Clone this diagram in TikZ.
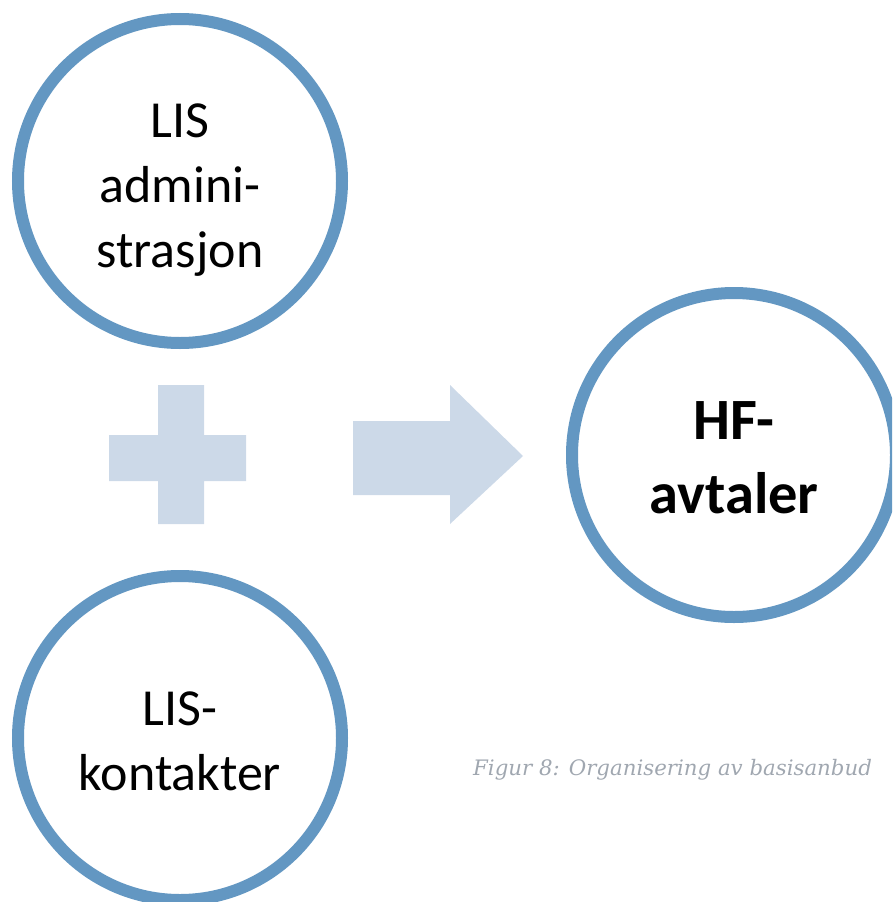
\documentclass[tikz,border=0pt]{standalone}
\usepackage{fontspec}
\setmainfont{Carlito}
\newfontfamily\capfont{DejaVu Serif}
\definecolor{ringblue}{RGB}{99,151,194}
\definecolor{shapefill}{RGB}{204,217,232}
\definecolor{capgray}{RGB}{160,167,176}
\begin{document}
\begin{tikzpicture}[x=1pt,y=-1pt,
  ring/.style={circle,draw=ringblue,line width=12pt,fill=white,minimum size=324pt,inner sep=0pt},
  ringtext/.style={align=center,inner sep=0pt,font=\fontsize{52}{65}\selectfont},
  boldtext/.style={align=center,inner sep=0pt,font=\fontsize{58.5}{74}\selectfont\bfseries},
  capstyle/.style={anchor=base west,inner sep=0pt,text=capgray,font=\capfont\itshape\fontsize{21.3}{26}\selectfont}]
\useasboundingbox (0,0) rectangle (892,902);
\clip (0,0) rectangle (892,902);
% circles
\node[ring] (c1) at (180,181) {};
\node[ring] (c2) at (180,738) {};
\node[ring] (c3) at (734,455) {};
\node[ringtext] (t1) at (180,190) {LIS\\admini-\\strasjon};
\node[ringtext] (t2) at (180,741) {LIS-\\kontakter};
\node[boldtext] (t3) at (734,458) {HF-\\avtaler};
% plus
\fill[shapefill] (158,385) -- (204,385) -- (204,435) -- (246,435) -- (246,481)
  -- (204,481) -- (204,524) -- (158,524) -- (158,481) -- (109,481) -- (109,435)
  -- (158,435) -- cycle;
% arrow
\fill[shapefill] (353,421) -- (450,421) -- (450,385) -- (523,456) -- (450,524)
  -- (450,495) -- (353,495) -- cycle;
% caption
\node[capstyle] (cap) at (473,775) {Figur 8: Organisering av basisanbud};
\end{tikzpicture}
\end{document}
